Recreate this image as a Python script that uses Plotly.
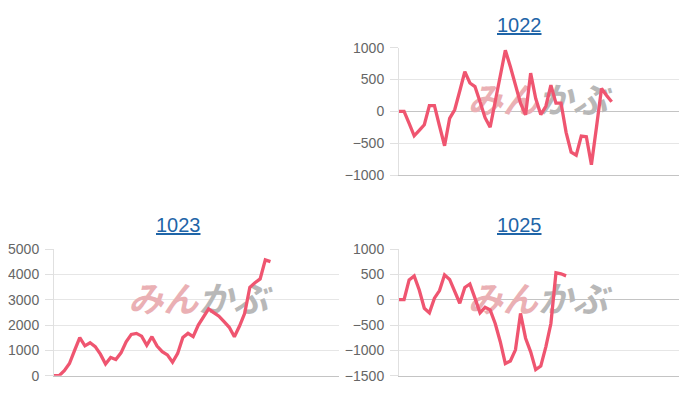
import plotly.graph_objects as go

# values, one point per trading day
codes = ["1022", "1023", "1025"]
vals_1022 = [0, 0, -190, -385, -300, -210, 90, 90, -230, -540,
             -110, 25, 320, 625, 445, 390, 150, -100, -250, 150,
             560, 960, 700, 400, 130, -55, 600, 200, -50, 80,
             410, 130, 130, -330, -640, -690, -390, -400, -840, -250,
             360, 250, 150]
vals_1023 = [0, 0, 200, 480, 1000, 1500, 1180, 1300, 1150, 850,
             460, 720, 640, 900, 1340, 1630, 1670, 1560, 1200, 1540,
             1170, 950, 820, 530, 880, 1510, 1670, 1540, 2000, 2330,
             2640, 2490, 2350, 2130, 1910, 1540, 1960, 2460, 3490, 3670,
             3820, 4570, 4500]
vals_1025 = [0, 0, 390, 470, 190, -170, -260, 30, 180, 490,
             400, 160, -70, 240, 310, 30, -260, -150, -200, -470,
             -830, -1260, -1210, -990, -270, -760, -1030, -1380, -1310, -930,
             -470, 530, 510, 470]
y_ranges = {"1022": (-1000, 1000), "1023": (0, 5000), "1025": (-1500, 1000)}
y_steps = {"1022": 500, "1023": 1000, "1025": 500}

LINE = "#ef5570"
TITLE_BLUE = "#1f65a8"
W, H = 700, 400
PAGE = 8  # default body margin of the html page

# pixel boxes of each panel on screen (left, right, top, bottom), title centre,
# and where the site watermark sits in data units
panels = {
    "1022": dict(box=(399, 679, 47.7, 175), title=(519, 25), wm=(27.4, 118)),
    "1023": dict(box=(54, 339, 249, 375.7), title=(178, 225), wm=(28.0, 2850)),
    "1025": dict(box=(399, 679, 249, 375.7), title=(519, 225), wm=(27.4, -75)),
}
series = {"1022": vals_1022, "1023": vals_1023, "1025": vals_1025}


def px_x(x):
    return (x - PAGE) / W


def px_y(y):
    return 1 - (y - PAGE) / H


fig = go.Figure()
layout = {}
annotations = []

for i, code in enumerate(codes, start=1):
    p = panels[code]
    left, right, top, bottom = p["box"]
    xa, ya = f"x{i}", f"y{i}"
    vals = series[code]

    # watermark first so the line sits on top of it
    fig.add_trace(go.Scatter(
        x=[p["wm"][0]], y=[p["wm"][1]], xaxis=xa, yaxis=ya, mode="text",
        text=["<b><i><span style='color:#eab0b4'>みん</span>"
              "<span style='color:#b8b8b8'>かぶ</span></i></b>"],
        textfont=dict(family="Noto Sans CJK JP", size=35),
        cliponaxis=False, hoverinfo="skip", showlegend=False,
    ))
    fig.add_trace(go.Scatter(
        x=list(range(len(vals))), y=vals, xaxis=xa, yaxis=ya, mode="lines",
        line=dict(color=LINE, width=3.3), showlegend=False,
    ))

    layout[f"xaxis{i}"] = dict(
        domain=[px_x(left), px_x(right)], anchor=ya, range=[0, 55.3],
        showticklabels=False, showgrid=False, zeroline=False, automargin=False,
        showline=True, linecolor="#c4c4c4", linewidth=1, fixedrange=True,
    )
    lo, hi = y_ranges[code]
    layout[f"yaxis{i}"] = dict(
        domain=[px_y(bottom), px_y(top)], anchor=xa, range=[lo, hi],
        dtick=y_steps[code], tick0=0, showgrid=True, gridcolor="#e6e6e6",
        zeroline=lo < 0, zerolinecolor="#c4c4c4", zerolinewidth=1,
        showline=True, linecolor="#e0e0e0", linewidth=1, automargin=False,
        ticks="outside", ticklen=8, tickcolor="#e0e0e0", ticklabelstandoff=3,
        tickfont=dict(family="Liberation Sans, Arial", size=14, color="#666666"),
        fixedrange=True,
    )
    tx, ty = p["title"]
    annotations.append(dict(
        x=px_x(tx), y=px_y(ty), xref="paper", yref="paper", showarrow=False,
        xanchor="center", yanchor="middle",
        text=f"<span style='text-decoration:underline'>{code}</span>",
        font=dict(family="Liberation Sans, Arial", size=20, color=TITLE_BLUE),
    ))

fig.update_layout(
    width=W, height=H, margin=dict(l=0, r=0, t=0, b=0, autoexpand=False),
    paper_bgcolor="white", plot_bgcolor="white",
    annotations=annotations, **layout,
)

fig.write_html("out.html")
